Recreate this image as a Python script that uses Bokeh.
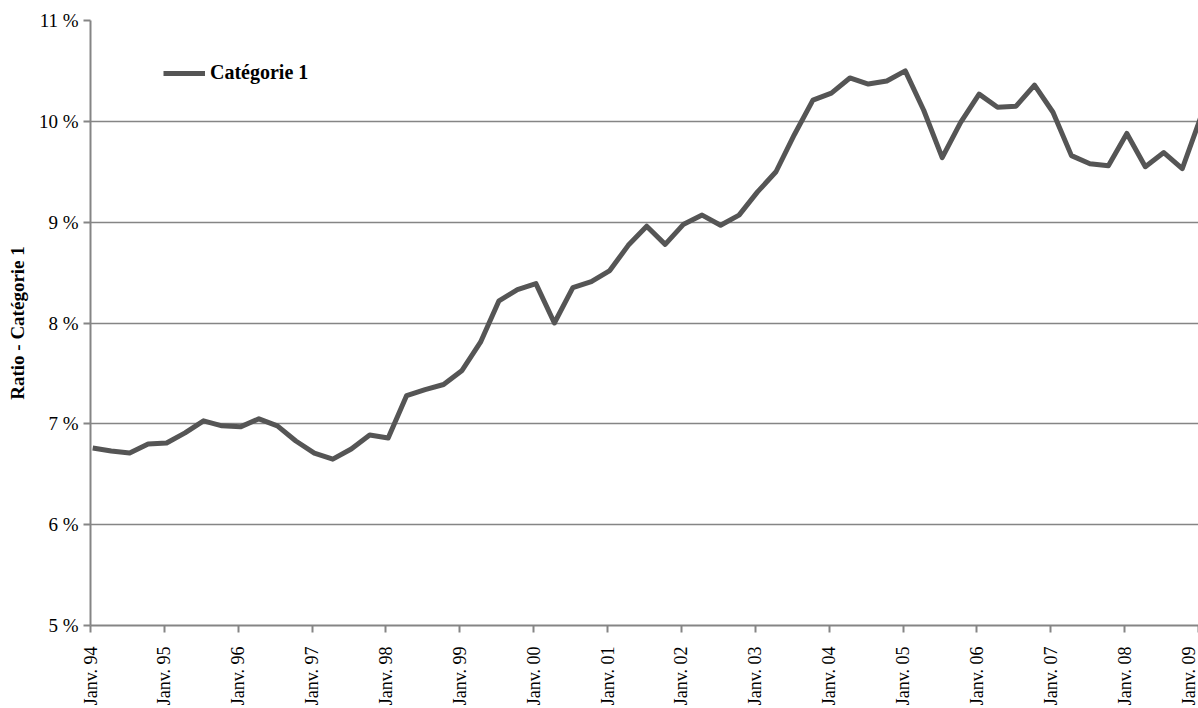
import math
from bokeh.plotting import figure
from bokeh.models import FixedTicker, Range1d, Legend, LegendItem
from bokeh.embed import file_html
from bokeh.resources import INLINE

series_name = "Catégorie 1"
y_axis_title = "Ratio - Catégorie 1"
start_year = 1994

# quarterly ratio values (%), Janv. 94 .. Janv. 09
ratio_pct = [
    6.76, 6.73, 6.71, 6.80, 6.81, 6.91, 7.03, 6.98, 6.97, 7.05,
    6.98, 6.83, 6.71, 6.65, 6.75, 6.89, 6.86, 7.28, 7.34, 7.39,
    7.53, 7.81, 8.22, 8.33, 8.39, 8.00, 8.35, 8.41, 8.52, 8.77,
    8.96, 8.78, 8.98, 9.07, 8.97, 9.07, 9.30, 9.50, 9.87, 10.21,
    10.28, 10.43, 10.37, 10.40, 10.50, 10.11, 9.64, 9.99, 10.27, 10.14,
    10.15, 10.36, 10.09, 9.66, 9.58, 9.56, 9.88, 9.55, 9.69, 9.53,
    10.04,
]
x_years = [start_year + 0.25 * i + 0.03 for i in range(len(ratio_pct))]

x_tick_years = list(range(1994, 2010))
x_tick_labels = ["Janv. %02d" % (y % 100) for y in x_tick_years]
y_ticks = [5, 6, 7, 8, 9, 10, 11]
y_tick_labels = ["%d %%" % v for v in y_ticks]

FONT = "Liberation Serif"
GRID = "#858585"

p = figure(width=1198, height=708, output_backend="svg", toolbar_location=None,
           x_range=Range1d(1994, 2009), y_range=Range1d(5, 11),
           min_border_left=90, min_border_right=0, min_border_top=20,
           min_border_bottom=83)
p.outline_line_color = None
p.background_fill_color = "white"
p.border_fill_color = "white"

r = p.line(x_years, ratio_pct, line_color="#555555", line_width=5,
           line_join="round")

# axes
p.yaxis.ticker = FixedTicker(ticks=y_ticks)
p.yaxis.major_label_overrides = dict(zip(y_ticks, y_tick_labels))
p.xaxis.ticker = FixedTicker(ticks=x_tick_years)
p.xaxis.major_label_overrides = dict(zip(x_tick_years, x_tick_labels))
p.xaxis.major_label_orientation = math.pi / 2

for ax in (p.xaxis, p.yaxis):
    ax.axis_line_color = GRID
    ax.axis_line_width = 2
    ax.major_tick_line_color = GRID
    ax.major_tick_line_width = 2
    ax.major_tick_out = 7
    ax.major_tick_in = 0
    ax.minor_tick_line_color = None
    ax.major_label_text_font = FONT
    ax.major_label_text_color = "black"

p.yaxis.major_label_text_font_size = "19px"
p.xaxis.major_label_text_font_size = "18px"
p.yaxis.major_label_standoff = 5
p.xaxis.major_label_standoff = 14
p.yaxis.axis_label = y_axis_title
p.yaxis.axis_label_text_font = FONT
p.yaxis.axis_label_text_font_style = "bold"
p.yaxis.axis_label_text_font_size = "19px"
p.yaxis.axis_label_text_color = "black"
p.yaxis.axis_label_standoff = 8

p.xgrid.visible = False
p.ygrid.grid_line_color = GRID
p.ygrid.grid_line_width = 1.5

legend = Legend(items=[LegendItem(label=series_name, renderers=[r])],
                location=(73, 541), glyph_width=42, glyph_height=20,
                label_standoff=5, padding=0, margin=0,
                border_line_color=None, background_fill_alpha=0,
                label_text_font=FONT, label_text_font_style="bold",
                label_text_font_size="20px", label_text_color="black")
p.add_layout(legend)

open("out.html", "w").write(file_html(p, INLINE))
